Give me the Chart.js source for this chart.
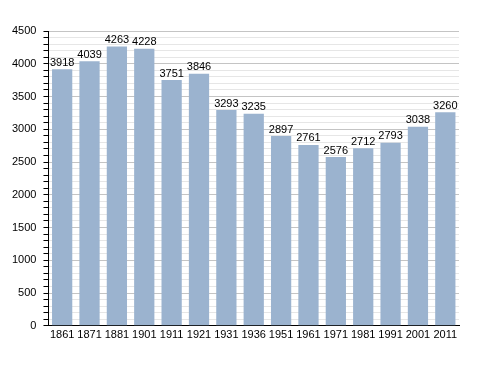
<!DOCTYPE html>
<html>
<head>
<meta charset="utf-8">
<script src="https://cdn.jsdelivr.net/npm/chart.js@4"></script>
<style>
  html, body { margin: 0; padding: 0; background: #fff; }
  #wrap { width: 488px; height: 373px; }
</style>
</head>
<body>
<div id="wrap"><canvas id="chart" width="488" height="373"></canvas></div>
<script>
const years = ["1861", "1871", "1881", "1901", "1911", "1921", "1931", "1936", "1951", "1961", "1971", "1981", "1991", "2001", "2011"];
const population = [3918, 4039, 4263, 4228, 3751, 3846, 3293, 3235, 2897, 2761, 2576, 2712, 2793, 3038, 3260];

// Value labels above each bar
const valueLabels = {
    id: "valueLabels",
    afterDatasetsDraw(chart) {
        const ctx = chart.ctx;
        const meta = chart.getDatasetMeta(0);
        ctx.save();
        ctx.font = "11px 'Liberation Sans', Arial, sans-serif";
        ctx.fillStyle = "#000";
        ctx.textAlign = "center";
        ctx.textBaseline = "bottom";
        meta.data.forEach((bar, i) => {
            ctx.fillText(population[i], bar.x, bar.y - 1);
        });
        ctx.restore();
    }
};

new Chart(document.getElementById("chart"), {
    type: "bar",
    data: {
        labels: years,
        datasets: [{
            data: population,
            backgroundColor: "#9bb3cf",
            borderWidth: 0,
            barPercentage: 0.74,
            categoryPercentage: 1
        }]
    },
    options: {
        responsive: false,
        animation: false,
        layout: { padding: { left: 5, right: 29, top: 31, bottom: 28 } },
        plugins: {
            legend: { display: false },
            tooltip: { enabled: false }
        },
        scales: {
            x: {
                grid: { display: false, drawTicks: false },
                border: { color: "#000", width: 1 },
                ticks: {
                    color: "#000",
                    font: { family: "'Liberation Sans', Arial, sans-serif", size: 11 },
                    padding: 3,
                    maxRotation: 0,
                    autoSkip: false
                }
            },
            y: {
                min: 0,
                max: 4500,
                border: { color: "#000", width: 1 },
                grid: {
                    color: c => (c.tick && c.tick.value % 500 === 0) ? "#c4c4c4" : "#e6e6e6",
                    tickColor: "#000",
                    tickLength: 5
                },
                ticks: {
                    stepSize: 100,
                    autoSkip: false,
                    color: "#000",
                    font: { family: "'Liberation Sans', Arial, sans-serif", size: 11 },
                    padding: 7,
                    callback: v => (v % 500 === 0 ? v : "")
                }
            }
        }
    },
    plugins: [valueLabels]
});
</script>
</body>
</html>
